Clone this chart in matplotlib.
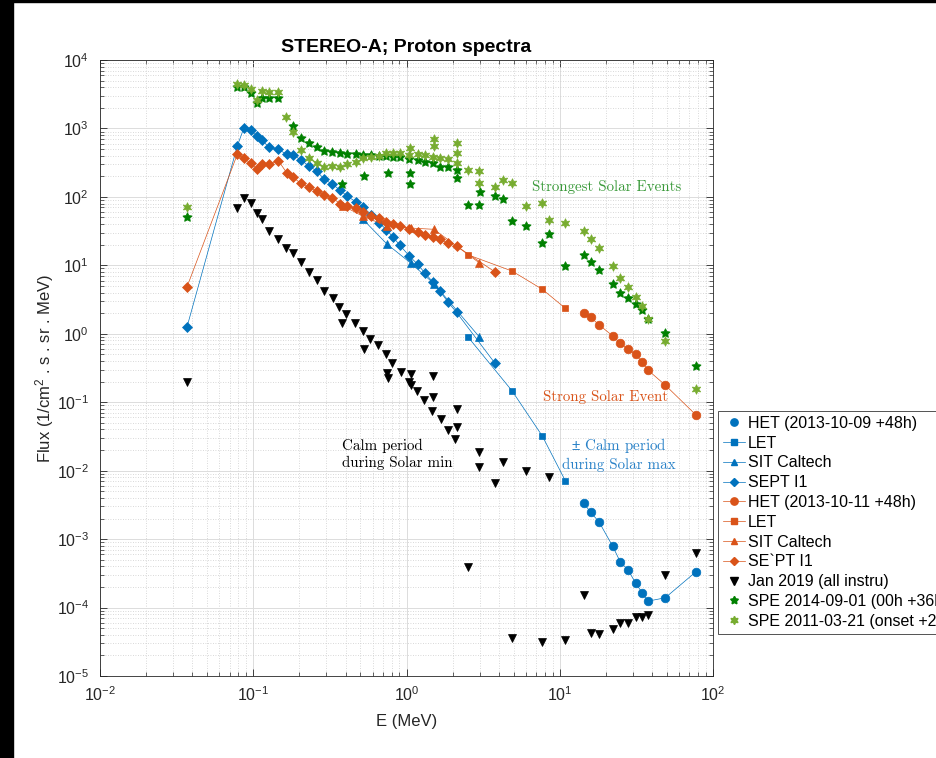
import matplotlib
matplotlib.use("Agg")
import matplotlib.pyplot as plt
from matplotlib.lines import Line2D
from matplotlib.patches import Rectangle
from matplotlib.ticker import LogLocator, NullFormatter

plt.rcParams['font.family'] = ['Liberation Sans', 'DejaVu Sans']
plt.rcParams['mathtext.fontset'] = 'custom'
plt.rcParams['mathtext.rm'] = 'Liberation Sans'
plt.rcParams['mathtext.it'] = 'Liberation Sans:italic'
plt.rcParams['mathtext.bf'] = 'Liberation Sans:bold'

# ---------------- data ----------------
# SEPT I1 energy channels (MeV)
E_sept = [0.037, 0.0787, 0.087, 0.096, 0.1055, 0.1136, 0.127, 0.146, 0.165, 0.182,
          0.204, 0.231, 0.259, 0.291, 0.327, 0.368, 0.409, 0.466, 0.522, 0.589,
          0.662, 0.74, 0.82, 0.908, 1.04, 1.18, 1.32, 1.48, 1.65, 1.87, 2.12, 3.78]
sept_calm = [1.27, 554, 1025, 938, 783, 678, 530, 495, 419, 414,
             346, 283, 239, 181, 154, 126, 103, 85, 70.5, 55,
             42, 33, 25.6, 19.5, 13.8, 10.4, 7.7, 5.77, 4.22, 2.88, 2.06, 0.37]
sept_strong = [4.87, 419, 366, 310, 258, 299, 302, 338, 226, 193,
               158, 138, 122, 106, 97, 80, 74, 68, 61, 53,
               48.6, 43, 40, 37.6, 34, 30.7, 27.7, 25.6, 24, 21, 19.1, 8.0]

# LET
E_let = [2.53, 4.88, 7.7, 10.9]
let_calm = [0.887, 0.147, 0.032, 0.00705]
let_strong = [14.2, 8.26, 4.46, 2.35]

# SIT Caltech
E_sit_calm = [0.52, 0.745, 1.07, 1.51, 2.98]
sit_calm = [47, 20.5, 10.7, 5.4, 0.906]
E_sit_strong = [0.387, 0.52, 0.745, 1.07, 1.51, 2.98]
sit_strong = [73.6, 52, 37.6, 35, 33.6, 10.9]

# HET
E_het = [14.3, 15.9, 18.0, 22.2, 24.9, 27.9, 31.3, 34.5, 37.6, 48.8, 77.5]
het_calm = [0.0034, 0.00246, 0.0018, 0.00078, 0.000458, 0.000357, 0.000226,
            0.000165, 0.000124, 0.000139, 0.000334]
het_strong = [1.99, 1.74, 1.36, 0.927, 0.724, 0.593, 0.501, 0.387, 0.295, 0.178, 0.065]

# Jan 2019, all instruments
E_jan = [0.037, 0.0787, 0.087, 0.096, 0.1055, 0.1136, 0.127, 0.146, 0.164, 0.182,
         0.204, 0.231, 0.259, 0.291, 0.33, 0.364, 0.378, 0.405, 0.46, 0.522,
         0.528, 0.58, 0.655, 0.74, 0.75, 0.76, 0.81, 0.92, 1.04, 1.07,
         1.07, 1.165, 1.30, 1.47, 1.50, 1.50, 1.67, 1.87, 2.08, 2.12,
         2.12, 2.53, 2.98, 2.98, 3.78, 4.28, 4.88, 6.0, 7.7, 8.5,
         10.9, 14.3, 15.9, 18.0, 22.2, 24.9, 27.9, 31.3, 34.5, 37.6,
         48.8, 77.5]
F_jan = [0.2, 68, 97, 82, 59, 47, 32, 24, 17.7, 15.3,
         11.3, 8.07, 6.1, 4.26, 3.37, 2.48, 1.42, 1.94, 1.45, 1.11,
         0.593, 0.83, 0.685, 0.506, 0.27, 0.223, 0.378, 0.279, 0.2, 0.258,
         0.178, 0.147, 0.108, 0.075, 0.241, 0.118, 0.056, 0.039, 0.0287, 0.0787,
         0.043, 0.000395, 0.0189, 0.0114, 0.0065, 0.0135, 3.55e-5, 0.0100, 3.17e-5, 0.0082,
         3.35e-5, 0.000152, 4.28e-5, 4.1e-5, 4.8e-5, 6.0e-5, 6.0e-5, 7.2e-5, 7.2e-5, 7.8e-5,
         3.0e-4, 6.3e-4]

# SPE 2014-09-01
E_spe14 = [0.037, 0.0787, 0.087, 0.096, 0.1055, 0.1136, 0.127, 0.146, 0.182, 0.204,
           0.231, 0.259, 0.291, 0.327, 0.368, 0.378, 0.409, 0.466, 0.522, 0.525,
           0.589, 0.662, 0.74, 0.76, 0.82, 0.908, 1.04, 1.05, 1.05, 1.18,
           1.32, 1.48, 1.65, 1.87, 2.12, 2.12, 2.53, 2.98, 3.0, 3.78,
           4.28, 4.88, 6.0, 7.7, 8.5, 10.9, 14.3, 15.9, 18.0, 22.2,
           24.9, 27.9, 31.3, 34.5, 37.6, 48.8, 77.5]
F_spe14 = [50, 3990, 4070, 3325, 2330, 2755, 2755, 2755, 1087, 717,
           607, 541, 473, 457, 433, 154, 423, 419, 409, 202,
           405, 400, 396, 225, 387, 387, 354, 225, 154, 346,
           327, 316, 276, 276, 247, 187, 76, 76, 117, 103,
           92, 44, 37.6, 21.4, 28.6, 9.8, 14.2, 11.1, 8.55, 5.28,
           3.98, 3.3, 2.72, 2.22, 1.62, 1.02, 0.338]

# SPE 2011-03-21
E_spe11 = [0.037, 0.0787, 0.087, 0.096, 0.1055, 0.1136, 0.127, 0.146, 0.164, 0.182,
           0.204, 0.231, 0.259, 0.291, 0.327, 0.368, 0.409, 0.466, 0.522, 0.589,
           0.662, 0.74, 0.82, 0.908, 1.04, 1.05, 1.18, 1.32, 1.48, 1.51,
           1.51, 1.65, 1.87, 2.12, 2.12, 2.12, 2.53, 2.98, 2.98, 3.78,
           4.28, 4.88, 6.0, 7.7, 8.5, 10.9, 14.3, 15.9, 18.0, 22.2,
           24.9, 27.9, 31.3, 34.5, 37.6, 48.8, 77.5]
F_spe11 = [72, 4460, 4310, 3730, 2600, 3560, 3440, 3440, 1486, 896,
           484, 366, 316, 276, 282, 276, 300, 327, 366, 378,
           400, 433, 443, 443, 409, 511, 423, 409, 378, 553,
           693, 366, 354, 316, 443, 620, 247, 242, 158, 141,
           175, 161, 74, 82, 46, 41, 31.7, 24.3, 18.1, 9.8,
           6.6, 4.88, 3.48, 2.55, 1.62, 0.78, 0.154]

labels = ['HET (2013-10-09 +48h)', 'LET', 'SIT Caltech', 'SEPT I1',
          'HET (2013-10-11 +48h)', 'LET', 'SIT Caltech', 'SE`PT I1',
          'Jan 2019 (all instru)', 'SPE 2014-09-01 (00h +36h)',
          'SPE 2011-03-21 (onset +24h)']

# ---------------- styles ----------------
BLUE = '#0072BD'
ORANGE = '#D95319'
DKGREEN = '#008000'
LTGREEN = '#77AC30'
LW = 0.5
pent = (5, 1, 0)
hexa = (6, 1, 0)
MS = {'o': 6.2, 's': 4.6, '^': 5.4, 'D': 4.8, 'v': 6.4, pent: 7.0, hexa: 7.0}

fig = plt.figure(figsize=(9.36, 7.58), dpi=100)
ax = fig.add_axes([100 / 936, 1 - 676 / 758, 613 / 936, 616 / 758])


def series(x, y, color, marker, line=True):
    ax.plot(x, y, color=color, lw=LW if line else 0, ls='-' if line else 'none',
            marker=marker, ms=MS[marker], mfc=color, mec=color, mew=0.5)


series(E_het, het_calm, BLUE, 'o')
series(E_let, let_calm, BLUE, 's')
series(E_sit_calm, sit_calm, BLUE, '^')
series(E_sept, sept_calm, BLUE, 'D')
series(E_het, het_strong, ORANGE, 'o')
series(E_let, let_strong, ORANGE, 's')
series(E_sit_strong, sit_strong, ORANGE, '^')
series(E_sept, sept_strong, ORANGE, 'D')
series(E_jan, F_jan, 'k', 'v', line=False)
series(E_spe14, F_spe14, DKGREEN, pent, line=False)
series(E_spe11, F_spe11, LTGREEN, hexa, line=False)

ax.set_xscale('log')
ax.set_yscale('log')
ax.set_xlim(1e-2, 1e2)
ax.set_ylim(1e-5, 1e4)

for axis in (ax.xaxis, ax.yaxis):
    axis.set_major_locator(LogLocator(base=10, numticks=20))
    axis.set_minor_locator(LogLocator(base=10, subs=range(2, 10), numticks=100))
    axis.set_minor_formatter(NullFormatter())

ax.grid(True, which='major', color='#dcdcdc', lw=0.7, ls='-')
ax.grid(True, which='minor', color='#cccccc', lw=0.6, ls=(0, (1, 2)))
ax.set_axisbelow(True)
ax.tick_params(which='both', direction='in', top=True, right=True,
               colors='#262626', labelsize=11.5)
ax.tick_params(which='major', length=5, width=0.6)
ax.tick_params(which='minor', length=2.8, width=0.5)
ax.tick_params(axis='y', which='major', pad=8)
ax.tick_params(axis='x', which='major', pad=7)
for s in ax.spines.values():
    s.set_color('#262626')
    s.set_linewidth(0.6)

ax.set_title('STEREO-A; Proton spectra', fontsize=14, fontweight='bold', pad=6)
ax.set_xlabel('E (MeV)', fontsize=12, color='#262626')
ax.set_ylabel('Flux (1/cm$^2$ . s . sr . MeV)', fontsize=12, color='#262626')
ax.xaxis.set_label_coords(0.5, -0.061)
ax.yaxis.set_label_coords(-0.071, 0.5)

serif = ['cmr10', 'DejaVu Serif']
ax.text(6.56, 141, 'Strongest Solar Events', color='#3a9a3a', fontsize=10.8,
        family=serif, ha='left', va='center')
ax.text(7.73, 0.120, 'Strong Solar Event', color=ORANGE, fontsize=10.8,
        family=serif, ha='left', va='center')
ax.text(24.4, 0.0175, r'$\pm$ Calm period' + '\nduring Solar max', color='#2a82c8',
        fontsize=10.8, family=serif, ha='center', va='center',
        multialignment='center', linespacing=1.25)
ax.text(0.3777, 0.0175, 'Calm period\nduring Solar min', color='k',
        fontsize=10.8, family=serif, ha='left', va='center',
        multialignment='left', linespacing=1.25)

# legend
specs = [(BLUE, 'o', False), (BLUE, 's', True), (BLUE, '^', True),
         (BLUE, 'D', True), (ORANGE, 'o', True), (ORANGE, 's', True),
         (ORANGE, '^', True), (ORANGE, 'D', True), ('k', 'v', False),
         (DKGREEN, pent, False), (LTGREEN, hexa, False)]
handles = [Line2D([], [], color=c, lw=LW if ln else 0, ls='-' if ln else 'none',
                  marker=m, ms=MS[m] * 0.85, mfc=c, mec=c) for c, m, ln in specs]
leg = fig.legend(handles, labels, loc='upper left',
                 bbox_to_anchor=(718 / 936, 1 - 411 / 758), bbox_transform=fig.transFigure,
                 fontsize=11.5, frameon=True, fancybox=False, handlelength=1.4,
                 handletextpad=0.15, labelspacing=0.3, borderpad=0.3,
                 borderaxespad=0)
leg.get_frame().set_edgecolor('#262626')
leg.get_frame().set_linewidth(0.7)

# dark border strips along the left and top edges
fig.add_artist(Rectangle((0, 0), 13 / 936, 1, transform=fig.transFigure,
                         color='black', zorder=10))
fig.add_artist(Rectangle((0, 1 - 2 / 758), 1, 2 / 758, transform=fig.transFigure,
                         color='black', zorder=10))

fig.savefig('out.png', dpi=100)
